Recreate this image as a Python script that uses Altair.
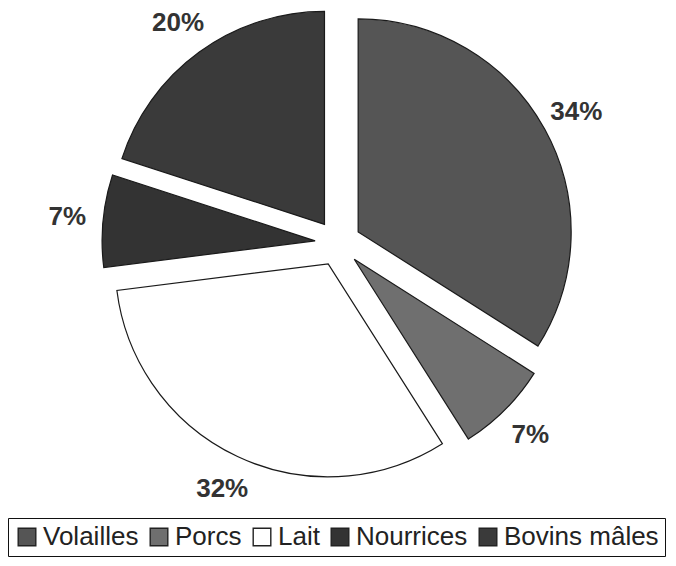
import altair as alt
import pandas as pd

# Parts by production (percent), clockwise from 12 o'clock
categories = ["Volailles", "Porcs", "Lait", "Nourrices", "Bovins mâles"]
parts = [34, 7, 32, 7, 20]
couleurs = ["#555555", "#6f6f6f", "#ffffff", "#333333", "#3a3a3a"]

ECART = 23      # explosion distance of each slice (px)
RAYON = 213     # pie radius (px)
R_LABEL = 272   # radius of the percentage labels (px)
W, H = 676, 486

df = pd.DataFrame({"categorie": categories, "part": parts, "ordre": list(range(len(parts)))})

theta_scale = alt.Scale(domain=[0, 100])
couleur = alt.Color(
    "categorie:N",
    scale=alt.Scale(domain=categories, range=couleurs),
    legend=alt.Legend(
        title=None,
        orient="none",
        legendX=8,
        legendY=518,
        direction="horizontal",
        strokeColor="#111111",
        padding=6,
        labelFont="Liberation Sans",
        labelFontSize=26,
        labelColor="#222222",
        labelOffset=3,
        labelLimit=300,
        columnPadding=7,
        symbolType="square",
        symbolSize=310,
        symbolStrokeColor="#222222",
        symbolStrokeWidth=1.4,
        symbolOpacity=1,
    ),
)

base = alt.Chart(df).transform_window(
    fin="sum(part)", sort=[alt.SortField("ordre")], frame=[None, 0]
).transform_calculate(
    debut="datum.fin - datum.part",
    milieu="(datum.debut + datum.fin) / 2",
    ang="datum.milieu / 100 * 2 * PI",
    dx=f"{ECART} * sin(datum.ang)",
    dy=f"{ECART} * cos(datum.ang)",
    etiquette="datum.part + '%'",
)

parts_arc = base.mark_arc(outerRadius=RAYON, stroke="#1a1a1a", strokeWidth=1.2).encode(
    theta=alt.Theta("debut:Q", scale=theta_scale, stack=None),
    theta2="fin:Q",
    x=alt.X("dx:Q", scale=alt.Scale(domain=[-W / 2, W / 2]), axis=None),
    y=alt.Y("dy:Q", scale=alt.Scale(domain=[-H / 2, H / 2]), axis=None),
    color=couleur,
)

etiquettes = base.mark_text(
    radius=R_LABEL, font="Liberation Sans", fontSize=26, fontWeight="bold", color="#333333"
).encode(
    theta=alt.Theta("milieu:Q", scale=theta_scale, stack=None),
    text="etiquette:N",
)

chart = alt.layer(parts_arc, etiquettes).properties(
    width=W,
    height=H,
    autosize=alt.AutoSizeParams(type="none"),
    padding={"left": 0, "top": 0, "right": 0, "bottom": 80},
    background="white",
).configure_view(stroke=None)

chart.save("out.html", embed_options={"renderer": "svg", "actions": False})
